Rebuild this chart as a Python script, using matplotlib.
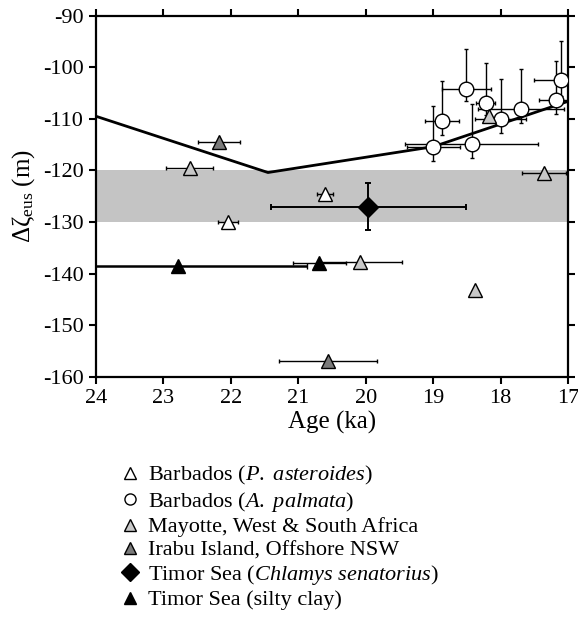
import numpy as np
import matplotlib.pyplot as plt
from matplotlib.lines import Line2D

plt.rcParams['font.family'] = 'Liberation Serif'
plt.rcParams['mathtext.fontset'] = 'custom'
plt.rcParams['mathtext.rm'] = 'Liberation Serif'
plt.rcParams['mathtext.it'] = 'Liberation Serif:italic'
plt.rcParams['axes.unicode_minus'] = False

# model curve
line_age = [24.0, 21.45, 19.0, 17.0]
line_val = [-109.5, -120.4, -115.4, -106.6]

# Barbados (P. asteroides)
pa_age = [22.04, 20.60]
pa_val = [-130.0, -124.5]
pa_xerr = [0.15, 0.12]

# Barbados (A. palmata)
ap_age = [19.00, 18.87, 18.51, 18.22, 18.43, 18.00, 17.70, 17.18, 17.10]
ap_val = [-115.4, -110.4, -104.2, -106.9, -114.8, -110.0, -108.0, -106.4, -102.5]
ap_xerr = [0.39, 0.25, 0.36, 0.14, 0.99, 0.38, 0.64, 0.25, 0.40]
ap_yerr_lo = [2.7, 2.7, 2.4, 2.3, 2.8, 2.7, 2.8, 2.6, 3.1]
ap_yerr_hi = [7.9, 7.8, 7.8, 7.8, 7.6, 7.7, 7.6, 7.6, 7.6]

# Mayotte, West & South Africa
my_age = [22.61, 18.18, 17.36, 20.08, 18.38]
my_val = [-119.5, -109.4, -120.5, -137.7, -143.1]
my_xerr = [0.35, 0.0, 0.33, 0.62, 0.0]

# Irabu Island, Offshore NSW
ir_age = [22.17, 20.56]
ir_val = [-114.4, -157.0]
ir_xerr = [0.31, 0.72]

# Timor Sea (Chlamys senatorius)
cs_age = [19.96]
cs_val = [-127.0]
cs_xerr = [1.45]
cs_yerr = [4.5]

# Timor Sea (silty clay)
sc_age = [22.79, 20.69]
sc_val = [-138.5, -138.0]
sc_xerr = [1.92, 0.39]

fig = plt.figure(figsize=(5.78, 6.25), dpi=100)
ax = fig.add_axes([0.166, 0.397, 0.817, 0.578])

# LGM band
ax.axhspan(-130, -120, color='#c4c4c4', lw=0, zorder=0)

ax.plot(line_age, line_val, color='black', lw=2, zorder=2)

eb = dict(fmt='none', ecolor='black', elinewidth=1, capsize=1.5, capthick=1, zorder=3)

ax.errorbar(pa_age, pa_val, xerr=pa_xerr, **eb)
ax.plot(pa_age, pa_val, '^', ms=10.5, mfc='white', mec='black', mew=1, zorder=5)

ax.errorbar(ap_age, ap_val, xerr=ap_xerr, yerr=[ap_yerr_lo, ap_yerr_hi], **eb)
ax.plot(ap_age, ap_val, 'o', ms=10.5, mfc='white', mec='black', mew=1, zorder=5)

ax.errorbar(my_age, my_val, xerr=my_xerr, **eb)
ax.plot(my_age, my_val, '^', ms=10.5, mfc='#c8c8c8', mec='black', mew=1, zorder=5)

ax.errorbar(ir_age, ir_val, xerr=ir_xerr, **eb)
ax.plot(ir_age, ir_val, '^', ms=10.5, mfc='#7a7a7a', mec='black', mew=1, zorder=5)

ax.errorbar(cs_age, cs_val, xerr=cs_xerr, yerr=cs_yerr, fmt='none', ecolor='black',
            elinewidth=1.4, capsize=2, capthick=1.4, zorder=3)
ax.plot(cs_age, cs_val, 'D', ms=10, mfc='black', mec='black', zorder=5)

ax.errorbar(sc_age[:1], sc_val[:1], xerr=sc_xerr[:1], fmt='none', ecolor='black',
            elinewidth=1.8, capsize=2, zorder=3)
ax.errorbar(sc_age[1:], sc_val[1:], xerr=sc_xerr[1:], **eb)
ax.plot(sc_age, sc_val, '^', ms=10.5, mfc='black', mec='black', zorder=5)

ax.set_xlim(24, 17)
ax.set_ylim(-160, -90)
ax.set_xticks(np.arange(24, 16.5, -1))
ax.set_yticks(np.arange(-160, -85, 10))
ax.tick_params(direction='out', length=5, width=1.5, labelsize=16,
               top=True, right=True, pad=4)
for s in ax.spines.values():
    s.set_linewidth(1.6)
ax.set_xlabel('Age (ka)', fontsize=18, labelpad=2)
ax.set_ylabel(r'$\Delta\mathrm{\zeta}_{\mathrm{eus}}$ (m)', fontsize=18, labelpad=4)

handles = [
    Line2D([], [], ls='none', marker='^', ms=9, mfc='white', mec='black'),
    Line2D([], [], ls='none', marker='o', ms=8, mfc='white', mec='black'),
    Line2D([], [], ls='none', marker='^', ms=9, mfc='#c8c8c8', mec='black'),
    Line2D([], [], ls='none', marker='^', ms=9, mfc='#7a7a7a', mec='black'),
    Line2D([], [], ls='none', marker='D', ms=9, mfc='black', mec='black'),
    Line2D([], [], ls='none', marker='^', ms=9, mfc='black', mec='black'),
]
labels = [
    r'Barbados ($\mathit{P.}$ $\mathit{asteroides}$)',
    r'Barbados ($\mathit{A.}$ $\mathit{palmata}$)',
    'Mayotte, West & South Africa',
    'Irabu Island, Offshore NSW',
    r'Timor Sea ($\mathit{Chlamys}$ $\mathit{senatorius}$)',
    'Timor Sea (silty clay)',
]
fig.legend(handles, labels, loc='upper left', bbox_to_anchor=(0.205, 0.257),
           frameon=False, fontsize=16, handlelength=1.0, handletextpad=0.35,
           labelspacing=0.12, borderpad=0, borderaxespad=0)

fig.savefig('out.png', dpi=100)
